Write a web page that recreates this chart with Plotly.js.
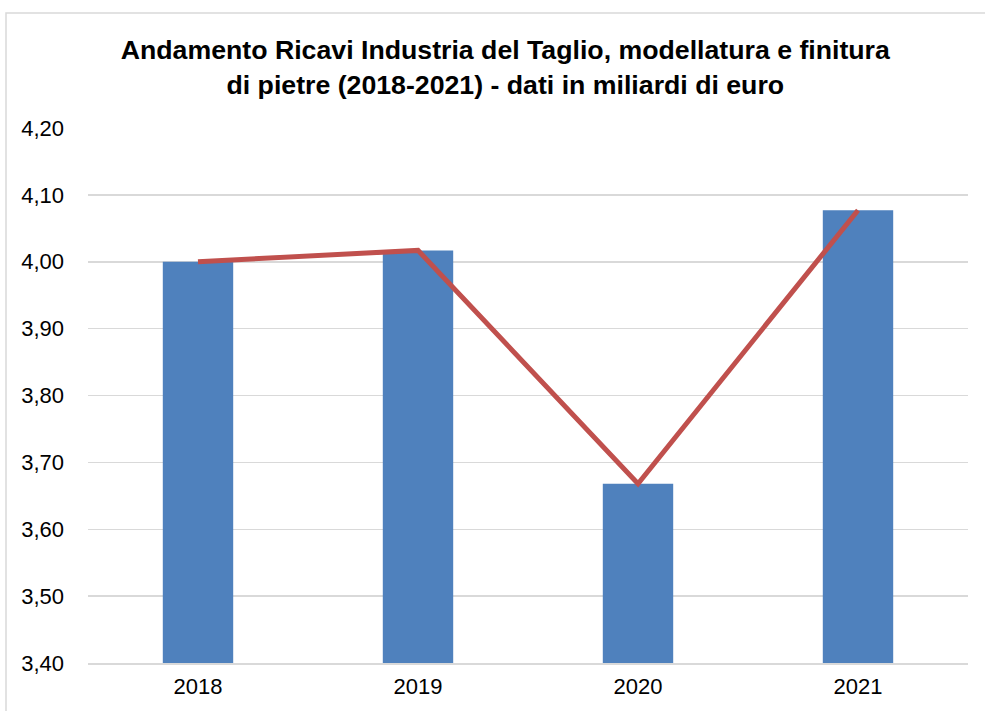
<!DOCTYPE html>
<html>
<head>
<meta charset="utf-8">
<script src="https://cdn.plot.ly/plotly-3.0.1.min.js"></script>
<style>html,body{margin:0;padding:0;background:#fff;}#chart{width:985px;height:711px;}</style>
</head>
<body>
<div id="chart"></div>
<script>
const categories = ["2018", "2019", "2020", "2021"];
const barValues = [4.00, 4.017, 3.668, 4.077];
const lineValues = [4.00, 4.017, 3.668, 4.077];
const yTicks = [3.40, 3.50, 3.60, 3.70, 3.80, 3.90, 4.00, 4.10, 4.20];

const data = [
  {
    type: 'bar',
    x: categories,
    y: barValues,
    marker: {color: '#4f81bd'},
    width: 0.32,
    hoverinfo: 'skip'
  },
  {
    type: 'scatter',
    mode: 'lines',
    x: categories,
    y: lineValues,
    line: {color: '#c0504d', width: 5},
    hoverinfo: 'skip'
  }
];

const layout = {
  width: 985,
  height: 711,
  margin: {l: 88, r: 17, t: 128, b: 48},
  paper_bgcolor: '#ffffff',
  plot_bgcolor: '#ffffff',
  showlegend: false,
  separators: ',.',
  font: {family: '"Liberation Sans", Arial, sans-serif', color: '#000'},
  title: {
    text: '<b>Andamento Ricavi Industria del Taglio, modellatura e finitura<br>di pietre (2018-2021) - dati in miliardi di euro</b>',
    font: {size: 26.7, color: '#000', family: '"Liberation Sans", Arial, sans-serif'},
    x: 0.513,
    xanchor: 'center',
    y: 1 - 59 / 711,
    yanchor: 'top'
  },
  xaxis: {
    type: 'category',
    range: [-0.5, 3.5],
    showgrid: false,
    showline: true,
    linecolor: '#d9d9d9',
    linewidth: 1.5,
    ticks: '',
    ticklabelstandoff: 3,
    tickfont: {size: 22, color: '#000'},
    fixedrange: true
  },
  yaxis: {
    range: [3.4, 4.2],
    tickvals: yTicks,
    tickformat: '.2f',
    showgrid: true,
    gridcolor: '#d9d9d9',
    gridwidth: 1.5,
    zeroline: false,
    showline: false,
    ticks: '',
    ticklen: 0,
    ticklabelstandoff: 23,
    tickfont: {size: 22, color: '#000'},
    fixedrange: true
  },
  shapes: [
    {
      type: 'rect',
      xref: 'paper', yref: 'paper',
      x0: (6 - 88) / 880, x1: 1.1,
      y0: -0.3, y1: (663 - 13) / 535,
      line: {color: '#d9d9d9', width: 1.5},
      fillcolor: 'rgba(0,0,0,0)',
      layer: 'below'
    }
  ]
};

Plotly.newPlot('chart', data, layout, {displayModeBar: false, staticPlot: true});
</script>
</body>
</html>
